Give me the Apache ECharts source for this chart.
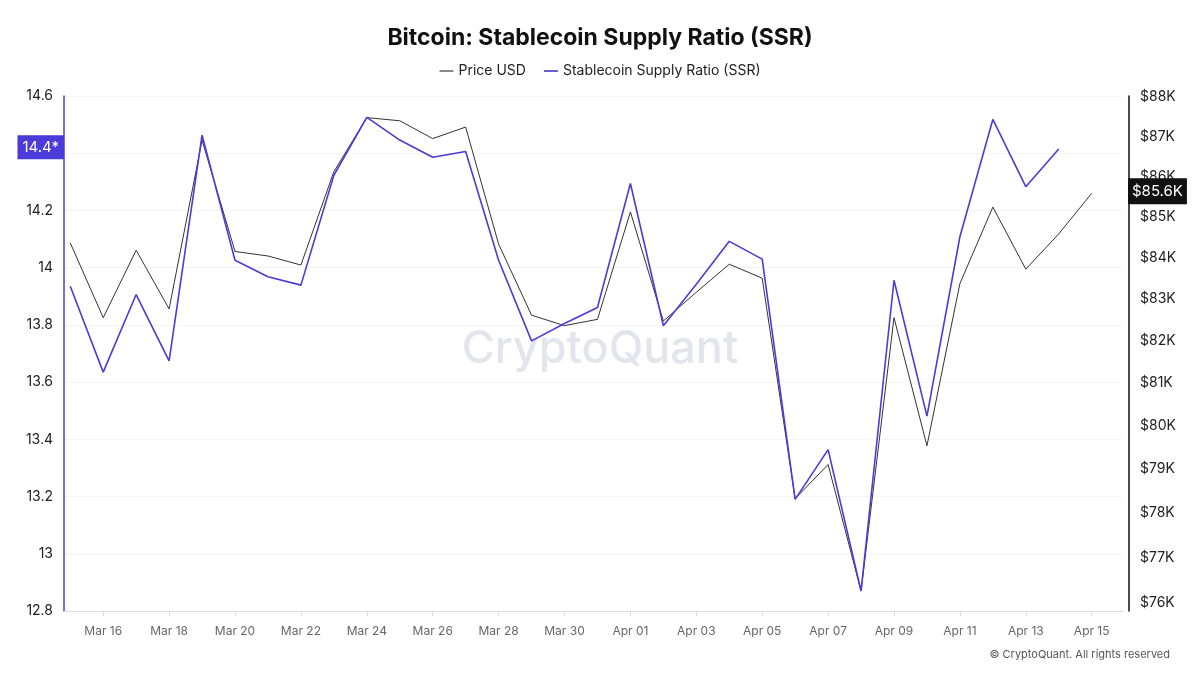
<!DOCTYPE html>
<html>
<head>
<meta charset="utf-8">
<title>Bitcoin: Stablecoin Supply Ratio (SSR)</title>
<script src="https://cdn.jsdelivr.net/npm/echarts@6/dist/echarts.min.js"></script>
<style>
  html, body { margin: 0; padding: 0; background: #fff; }
  #chart { width: 1200px; height: 675px; }
</style>
</head>
<body>
<div id="chart"></div>
<script>
  "use strict";

  // daily points, Mar 15 .. Apr 15 (2025)
  var dates = [
    "Mar 15", "Mar 16", "Mar 17", "Mar 18", "Mar 19", "Mar 20", "Mar 21", "Mar 22",
    "Mar 23", "Mar 24", "Mar 25", "Mar 26", "Mar 27", "Mar 28", "Mar 29", "Mar 30",
    "Mar 31", "Apr 01", "Apr 02", "Apr 03", "Apr 04", "Apr 05", "Apr 06", "Apr 07",
    "Apr 08", "Apr 09", "Apr 10", "Apr 11", "Apr 12", "Apr 13", "Apr 14", "Apr 15"
  ];

  var priceUsd = [
    84360, 82550, 84180, 82760, 86910, 84150, 84040, 83820,
    86120, 87480, 87400, 86950, 87240, 84330, 82610, 82360,
    82510, 85120, 82470, 83160, 83840, 83500, 78330, 79110,
    76260, 82550, 79540, 83370, 85240, 83720, 84580, 85580
  ];

  // SSR has no value for the last day
  var ssr = [
    13.935, 13.635, 13.906, 13.674, 14.463, 14.026, 13.968, 13.939,
    14.323, 14.525, 14.446, 14.386, 14.406, 14.026, 13.744, 13.805,
    13.861, 14.294, 13.797, 13.942, 14.092, 14.030, 13.190, 13.364,
    12.870, 13.956, 13.481, 14.108, 14.518, 14.283, 14.415, null
  ];

  var xTickIdx = [1, 3, 5, 7, 9, 11, 13, 15, 17, 19, 21, 23, 25, 27, 29, 31];
  var priceTicks = [76000, 77000, 78000, 79000, 80000, 81000, 82000, 83000,
                    84000, 85000, 86000, 87000, 88000];

  var font = "Inter, 'Noto Sans', sans-serif";
  var purple = "#4b3bd9";

  function pairs(values) {
    var out = [];
    values.forEach(function (v, i) {
      if (v !== null) out.push([i, v]);
    });
    return out;
  }

  var lastPrice = priceUsd[priceUsd.length - 1];
  var lastSsr = ssr[ssr.length - 2];

  var myChart = echarts.init(document.getElementById("chart"), null, { renderer: "canvas" });

  var option = {
    backgroundColor: "#fff",
    animation: false,
    textStyle: { fontFamily: font },
    title: {
      text: "Bitcoin: Stablecoin Supply Ratio (SSR)",
      left: "center",
      top: 22,
      textStyle: { fontSize: 23, fontWeight: "bold", color: "#111", fontFamily: font }
    },
    legend: {
      top: 59,
      left: "center",
      icon: "rect",
      itemWidth: 14,
      itemHeight: 2,
      itemGap: 18,
      textStyle: { fontSize: 14, color: "#222", fontFamily: font },
      data: [
        { name: "Price USD", itemStyle: { color: "#8a8a8a" } },
        { name: "Stablecoin Supply Ratio (SSR)", itemStyle: { color: "#6a5fd6" } }
      ]
    },
    grid: { left: 64, right: 77, top: 96, bottom: 64 },
    graphic: [
      {
        type: "text",
        left: "center",
        top: 327,
        z: -1,
        silent: true,
        style: {
          text: "CryptoQuant",
          fontSize: 45,
          fontFamily: font,
          fontWeight: 500,
          fill: "#e4e4ed"
        }
      },
      {
        type: "text",
        right: 30,
        top: 649,
        style: {
          text: "\u00a9 CryptoQuant. All rights reserved",
          fontSize: 11,
          fontFamily: font,
          fill: "#555"
        }
      }
    ],
    xAxis: {
      type: "value",
      min: -0.19,
      max: 31.95,
      splitLine: { show: false },
      axisLine: { show: true, onZero: false, lineStyle: { color: "#dcdce4" } },
      axisTick: {
        show: true,
        length: 5,
        customValues: xTickIdx,
        lineStyle: { color: "#dcdce4" }
      },
      axisLabel: {
        customValues: xTickIdx,
        margin: 14,
        fontSize: 12,
        color: "#666",
        fontFamily: font,
        formatter: function (v) { return dates[Math.round(v)]; }
      }
    },
    yAxis: [
      {
        type: "value",
        position: "left",
        min: 12.8,
        max: 14.6,
        interval: 0.2,
        axisLine: { show: true, onZero: false, lineStyle: { color: purple, width: 1.5 } },
        axisTick: { show: false },
        splitLine: { show: true, lineStyle: { color: "#f5f5f7" } },
        axisLabel: {
          fontSize: 14,
          color: "#222",
          margin: 11,
          fontFamily: font,
          formatter: function (v) { return String(Math.round(v * 10) / 10); }
        }
      },
      {
        type: "log",
        logBase: 10,
        position: "right",
        offset: 6,
        min: 75820,
        max: 88030,
        axisLine: { show: true, onZero: false, lineStyle: { color: "#111", width: 1.5 } },
        axisTick: { show: false },
        splitLine: { show: false },
        axisLabel: {
          customValues: priceTicks,
          fontSize: 14,
          color: "#222",
          margin: 11,
          fontFamily: font,
          formatter: function (v) { return "$" + Math.round(v / 1000) + "K"; }
        }
      }
    ],
    series: [
      {
        name: "Price USD",
        type: "line",
        yAxisIndex: 1,
        data: pairs(priceUsd),
        showSymbol: false,
        color: "#8a8a8a",
        lineStyle: { color: "#333", width: 1 },
        z: 3,
        markLine: {
          silent: true,
          symbol: "none",
          lineStyle: { color: "rgba(0,0,0,0)", width: 0 },
          label: {
            show: true,
            position: "end",
            distance: 5,
            offset: [0, -2],
            formatter: "$85.6K",
            color: "#fff",
            fontSize: 15,
            fontFamily: font,
            backgroundColor: "#111",
            padding: [6, 4, 5, 4]
          },
          data: [{ yAxis: lastPrice }]
        }
      },
      {
        name: "Stablecoin Supply Ratio (SSR)",
        type: "line",
        yAxisIndex: 0,
        data: pairs(ssr),
        showSymbol: false,
        color: purple,
        lineStyle: { color: purple, width: 1.6 },
        z: 4,
        markLine: {
          silent: true,
          symbol: "none",
          lineStyle: { color: "rgba(0,0,0,0)", width: 0 },
          label: {
            show: true,
            position: "start",
            distance: 0,
            offset: [0, -3],
            formatter: "14.4*",
            color: "#fff",
            fontSize: 15,
            fontFamily: font,
            backgroundColor: purple,
            padding: [5, 5, 4, 5]
          },
          data: [{ yAxis: lastSsr }]
        }
      }
    ]
  };

  myChart.setOption(option);
</script>
</body>
</html>
